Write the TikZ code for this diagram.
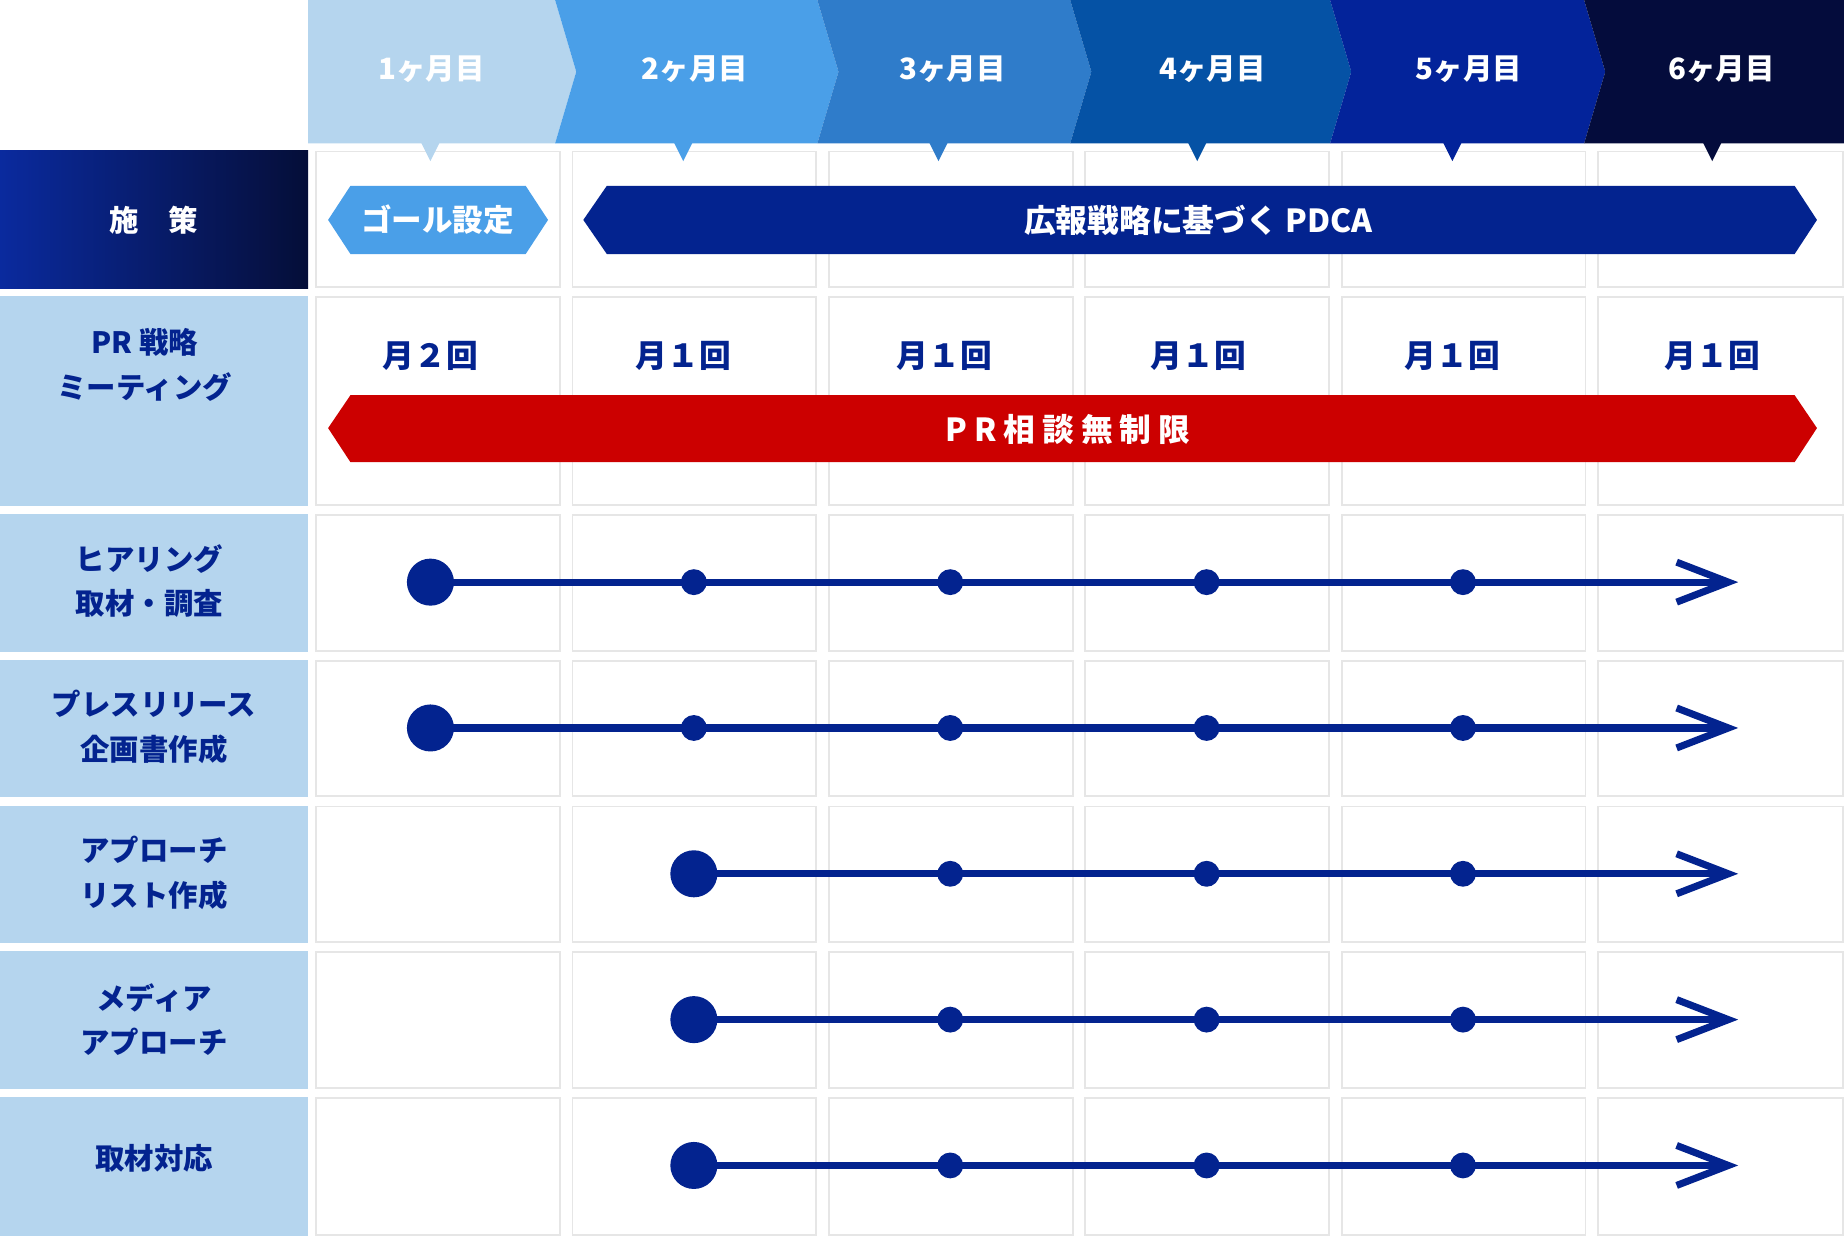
\documentclass[tikz,border=0pt]{standalone}
\usepackage{fontspec}
\usetikzlibrary{arrows.meta}
\newfontfamily\jp{Noto Sans CJK JP}
\definecolor{navy}{HTML}{03238F}
\definecolor{labfill}{HTML}{B5D5EE}
\definecolor{cellgray}{HTML}{E6E6E6}
\definecolor{hA}{HTML}{B5D5EE}
\definecolor{hB}{HTML}{4A9FE8}
\definecolor{hC}{HTML}{2F7CCA}
\definecolor{hD}{HTML}{0552A5}
\definecolor{hE}{HTML}{03239A}
\definecolor{hF}{HTML}{040C3C}
\definecolor{prred}{HTML}{CC0000}
\definecolor{gradL}{HTML}{0A2A9E}
\definecolor{gradR}{HTML}{050E38}
\begin{document}
\begin{tikzpicture}[x=0.5pt,y=-0.5pt,
  cellbox/.style={draw=cellgray,line width=0.8pt,fill=white},
  hdrtext/.style={font=\jp\bfseries\fontsize{12.5}{14}\selectfont,text=white,inner sep=0},
  lbltext/.style={font=\jp\bfseries\fontsize{12.5}{19}\selectfont,text=navy,align=center,inner sep=0},
  bartext/.style={font=\jp\bfseries\fontsize{13.5}{15}\selectfont,text=white,inner sep=0},
  freq/.style={font=\jp\bfseries\fontsize{13.5}{15}\selectfont,text=navy,inner sep=0},
  bigdot/.style={circle,fill=navy,minimum size=20pt,inner sep=0},
  smalldot/.style={circle,fill=navy,minimum size=11pt,inner sep=0},
  tl/.style={draw=navy,line width=3pt,-{Straight Barb[length=22pt,width=17pt,sharp]}},
]
\useasboundingbox (0,0) rectangle (1568,1051);
\fill[white] (0,0) rectangle (1568,1051);

% ---------- header chevrons ----------
\fill[hA] (262,0) -- (472,0) -- (490,61) -- (472,122) -- (262,122) -- cycle;
\fill[hB] (472,0) -- (695,0) -- (713,61) -- (695,122) -- (472,122) -- (490,61) -- cycle;
\fill[hC] (695,0) -- (910,0) -- (928,61) -- (910,122) -- (695,122) -- (713,61) -- cycle;
\fill[hD] (910,0) -- (1131,0) -- (1149,61) -- (1131,122) -- (910,122) -- (928,61) -- cycle;
\fill[hE] (1131,0) -- (1347,0) -- (1365,61) -- (1347,122) -- (1131,122) -- (1149,61) -- cycle;
\fill[hF] (1347,0) -- (1568,0) -- (1568,122) -- (1347,122) -- (1365,61) -- cycle;

% ---------- grid ----------
\foreach \t/\b in {128/245,252/430,437/554,561/678,685/802,809/926,933/1051} {
  \foreach \k in {0,...,4} {
    \filldraw[cellbox] ({268+218*\k+0.8},\t+0.8) rectangle ({268+218*\k+209-0.8},\b-0.8);
  }
  \filldraw[cellbox] (1358.8,\t+0.8) rectangle (1567.2,\b-0.8);
}
\shade[left color=gradL,right color=gradR] (0,128) rectangle (262,245);
\foreach \t/\b in {252/430,437/554,561/678,685/802,809/926,933/1051}
  \fill[labfill] (0,\t) rectangle (262,\b);

% ---------- pointers ----------
\foreach \p/\c in {366/hA,581/hB,798/hC,1018/hD,1235/hE,1456/hF}
  \fill[\c] (\p-8,121) -- (\p+8,121) -- (\p,137) -- cycle;

% ---------- header labels ----------
\node[hdrtext] (m1) at (367,59) {1ヶ月目};
\node[hdrtext] (m2) at (591,59) {2ヶ月目};
\node[hdrtext] (m3) at (810,59) {3ヶ月目};
\node[hdrtext] (m4) at (1031,59) {4ヶ月目};
\node[hdrtext] (m5) at (1249,59) {5ヶ月目};
\node[hdrtext] (m6) at (1464,59) {6ヶ月目};

% ---------- row labels ----------
\node[lbltext,text=white] (l0) at (131,187) {施　策};
\node[lbltext] (l1) at (123,310) {PR 戦略\\ミーティング};
\node[lbltext] (l2) at (127,494) {ヒアリング\\取材・調査};
\node[lbltext] (l3) at (131,618) {プレスリリース\\企画書作成};
\node[lbltext] (l4) at (131,742) {アプローチ\\リスト作成};
\node[lbltext] (l5) at (131,867) {メディア\\アプローチ};
\node[lbltext] (l6) at (131,985) {取材対応};

% ---------- bars ----------
\fill[hB] (279,187) -- (298,158) -- (447,158) -- (466,187) -- (447,216) -- (298,216) -- cycle;
\node[bartext,font=\jp\bfseries\fontsize{13}{15}\selectfont] (goal) at (372,187) {ゴール設定};
\fill[navy] (496,187) -- (516,158) -- (1526,158) -- (1545,187) -- (1526,216) -- (516,216) -- cycle;
\node[bartext] (pdca) at (1019,187) {広報戦略に基づく PDCA};
\fill[prred] (279,364) -- (298,336) -- (1526,336) -- (1545,364) -- (1526,393) -- (298,393) -- cycle;
\node[bartext] (pr) at (908,365) {P\kern3pt R\kern3pt 相\kern3pt 談\kern3pt 無\kern3pt 制\kern3pt 限};

% ---------- frequencies ----------
\node[freq] (f1) at (366,303) {月２回};
\node[freq] (f2) at (581,303) {月１回};
\node[freq] (f3) at (803,303) {月１回};
\node[freq] (f4) at (1019,303) {月１回};
\node[freq] (f5) at (1235,303) {月１回};
\node[freq] (f6) at (1456,303) {月１回};

% ---------- timelines ----------
\foreach \y/\n in {495/a,619/b} {
  \node[bigdot] (\n0) at (366,\y) {};
  \foreach \x [count=\i] in {590,808,1026,1244}
    \node[smalldot] (\n\i) at (\x,\y) {};
  \coordinate (\n e) at (1478,\y);
  \draw[tl] (\n0.center) -- (\n e);
}
\foreach \y/\n in {743/c,867/d,991/e} {
  \node[bigdot] (\n0) at (590,\y) {};
  \foreach \x [count=\i] in {808,1026,1244}
    \node[smalldot] (\n\i) at (\x,\y) {};
  \coordinate (\n e) at (1478,\y);
  \draw[tl] (\n0.center) -- (\n e);
}
\end{tikzpicture}
\end{document}
